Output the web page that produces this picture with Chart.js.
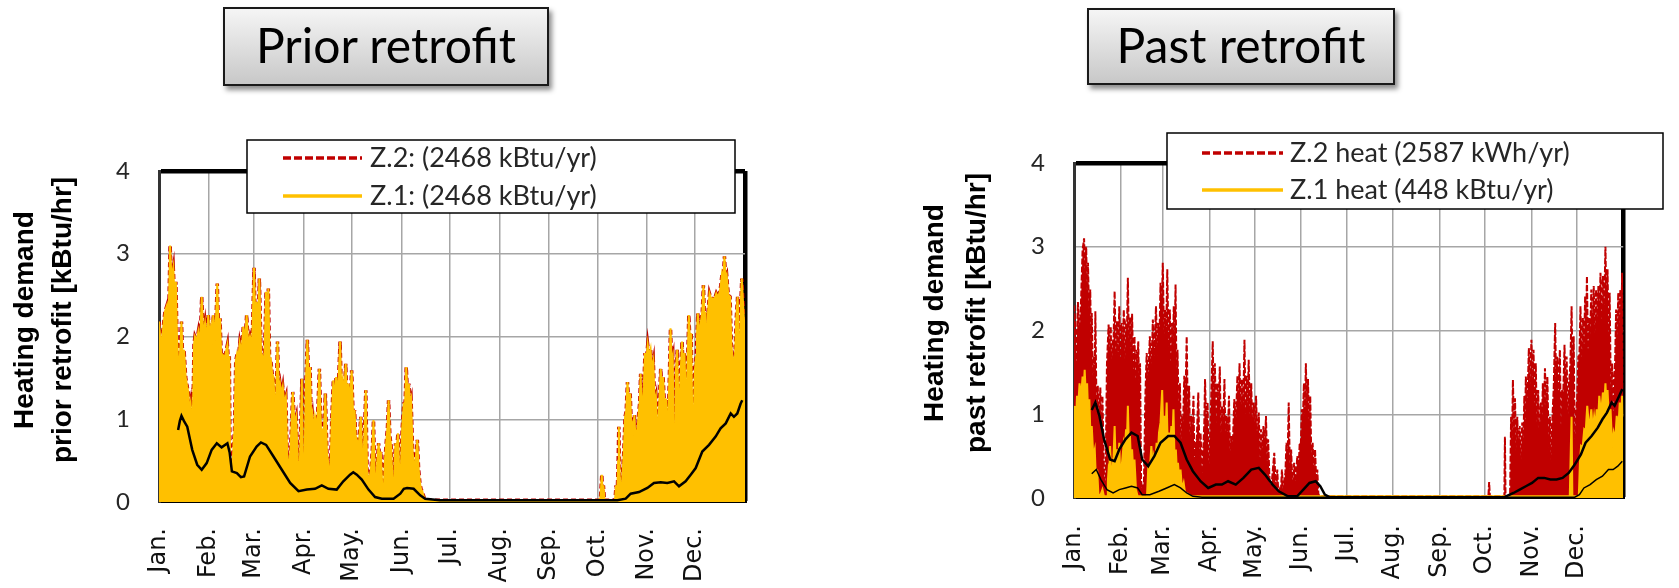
<!DOCTYPE html>
<html>
<head>
<meta charset="utf-8">
<script src="https://cdn.jsdelivr.net/npm/chart.js@4.4.1/dist/chart.umd.min.js"></script>
<style>
  html, body { margin: 0; padding: 0; background: #fff; }
  body { width: 1679px; height: 588px; position: relative; overflow: hidden; }
  canvas { position: absolute; top: 0; }
  #priorChart { left: 0; }
  #pastChart { left: 840px; }
  .title-box {
    position: absolute; box-sizing: border-box;
    border: 2px solid #1a1a1a;
    background: linear-gradient(#f5f5f5, #c8c8c8);
    box-shadow: 3px 4px 5px rgba(0, 0, 0, 0.45);
    font-family: Lato; font-size: 48px; color: #000; text-align: center;
  }
</style>
</head>
<body>
<canvas id="priorChart" width="830" height="588"></canvas>
<canvas id="pastChart" width="839" height="588"></canvas>
<div class="title-box" style="left:223px;top:7px;width:326px;height:79px;line-height:71px;">Prior retrofit</div>
<div class="title-box" style="left:1087px;top:8px;width:308px;height:77px;line-height:69px;">Past retrofit</div>
<script>
const monthLabels = ['Jan.', 'Feb.', 'Mar.', 'Apr.', 'May.', 'Jun.', 'Jul.', 'Aug.', 'Sep.', 'Oct.', 'Nov.', 'Dec.'];
const monthStarts = [0, 31, 59, 90, 120, 151, 181, 212, 243, 273, 304, 334];
const yTicks = [0, 1, 2, 3, 4];

// [day of year, kBtu/hr]
const priorZ1 = [
  [0,2.18],[1,1.92],[2,2.0],[3.7,2.30],[5,2.38],[6,2.2],[6.9,3.1],[7.8,2.7],[8.9,2.83],[9.8,2.4],[10.5,2.66],[11.2,2.0],
  [11.9,1.70],[13,1.75],[14,2.18],[14.8,1.7],[15.6,1.84],[16.6,1.51],[17.5,1.4],[18.2,1.33],[19,1.1],[19.7,1.19],[20.5,0.95],
  [21,0.91],[21.8,1.9],[22.4,2.0],[23.5,1.95],[24.5,2.06],[25.6,1.9],[26.6,2.48],[27.6,2.0],[28.7,2.16],[29.7,1.95],[30.7,2.26],
  [31.5,2.0],[32.4,2.12],[33.1,1.9],[33.8,2.26],[35,1.95],[36.3,2.64],[37.2,2.0],[38,2.22],[38.8,1.75],[39.6,1.78],[41,1.75],
  [42.6,1.90],[43.2,1.7],[43.8,1.76],[44.3,0.4],[44.6,0.35],[45.8,0.4],[46.5,0.75],[47,0.85],[47.8,1.7],[48.7,1.80],[49.5,1.75],
  [50.3,1.92],[51.4,1.8],[52.5,2.12],[53.6,1.95],[54.6,2.26],[55.6,1.9],[56.7,2.0],[58,1.9],[59.2,2.83],[60,2.1],[60.8,2.42],
  [61.6,2.0],[62.5,2.7],[63.6,1.8],[64.6,1.76],[65.6,1.7],[66.7,2.54],[67.4,1.9],[68.1,2.58],[68.9,1.7],[69.6,1.72],[70.5,1.55],
  [71.3,1.51],[72,1.2],[72.7,1.03],[73.3,1.5],[73.8,1.94],[74.6,1.35],[75.4,1.43],[76.3,1.3],[77.1,1.39],[78,1.2],[79,1.27],
  [79.8,0.6],[80.6,0.43],[81.4,0.5],[82.1,0.71],[82.7,1.0],[83.3,1.33],[84.4,0.95],[85.4,1.03],[86.5,0.5],[87.5,0.27],[88.3,0.9],
  [89,1.49],[89.7,0.3],[90.4,0.06],[91.4,1.4],[92.4,1.96],[93.3,1.4],[94.1,1.63],[94.8,1.0],[95.5,1.07],[96.4,0.85],[97.2,1.03],
  [98.5,0.9],[99.9,1.61],[101,0.8],[102,0.87],[102.8,0.9],[103.6,1.31],[104.6,0.6],[105.5,0.47],[106.6,0.2],[107.6,1.0],
  [108.6,1.47],[109.5,1.2],[110.3,1.51],[111.5,1.3],[112.8,1.94],[113.6,1.3],[114.5,1.47],[115.4,1.3],[116.3,1.67],[117.1,1.2],
  [118,1.43],[119,1.2],[120,1.59],[121,1.0],[121.8,1.11],[122.5,0.8],[123.2,0.75],[124.5,0.7],[125.7,1.03],[126.5,0.6],
  [127.4,0.51],[128.1,0.9],[128.8,1.35],[129.6,0.4],[130.5,0.23],[131.2,0.3],[132,0.39],[132.8,0.6],[133.6,0.99],[134.4,0.3],
  [135.1,0.15],[136,0.5],[136.8,0.71],[137.5,0.5],[138.2,0.61],[139,0.2],[139.9,0.06],[140.7,0.5],[141.5,0.71],[142.3,0.9],
  [143,1.23],[143.8,0.8],[144.6,0.67],[145.5,0.2],[146.3,0.06],[146.8,0.5],[147.3,0.71],[148,0.6],[148.8,0.83],[149.6,0.4],
  [150.4,0.23],[151.5,0.9],[152.5,1.19],[153.3,1.2],[154,1.63],[154.8,1.3],[155.6,1.43],[156.3,1.2],[157,1.25],[158,0.6],
  [158.8,0.43],[159.8,0.5],[160.9,0.75],[161.7,0.4],[162.5,0.23],[163.3,0.15],[164,0.13],[165,0.06],[166,0.03],[168,0.02],
  [274,0.02],[275,0.05],[275.8,0.33],[276.3,0.1],[276.8,0.2],[277.5,0.02],[284,0.02],[284.7,0.2],[285.3,0.02],[286,0.5],
  [286.4,0.91],[287,0.3],[287.8,0.02],[289.5,0.6],[290.3,1.03],[291,1.1],[291.8,1.45],[292.6,1.2],[293.5,1.31],[294.2,0.9],
  [295,0.95],[295.5,0.8],[296.1,1.05],[296.8,0.75],[297.5,0.83],[298.1,0.9],[298.8,1.07],[299.4,1.2],[300,1.55],[300.6,1.1],
  [301.3,1.19],[302,1.4],[302.7,1.80],[303.5,1.7],[304.4,1.90],[305.3,1.75],[306.2,1.84],[307,1.6],[307.9,1.70],[308.7,1.2],
  [309.5,1.27],[310.3,0.85],[311,0.91],[311.8,1.3],[312.5,1.61],[313.2,1.4],[314,1.51],[315,1.1],[315.8,1.25],[316.6,0.9],
  [317.3,1.03],[318,1.6],[318.6,2.1],[319.3,1.7],[320,1.76],[320.6,0.5],[321.3,0.35],[322,1.6],[322.8,1.84],[323.5,1.2],
  [324.3,1.23],[325,1.6],[325.8,1.94],[326.5,1.6],[327.3,1.80],[328,1.3],[328.8,1.31],[329.4,1.8],[330,2.26],[330.8,1.9],
  [331.5,2.04],[332.2,0.9],[333,0.91],[333.8,1.6],[334.6,1.76],[335.1,2.0],[335.6,2.28],[336.6,2.0],[337.7,2.20],[338.4,2.3],
  [339.1,2.62],[339.8,2.2],[340.4,2.30],[340.8,1.8],[341.2,1.82],[342,2.3],[342.9,2.52],[344,2.45],[345,2.46],[346,2.45],
  [347.1,2.52],[348,2.48],[349,2.52],[349.8,2.6],[350.7,2.76],[351.5,2.7],[352.2,2.97],[352.9,2.7],[353.6,2.74],[354.6,2.5],
  [355.7,2.48],[356.5,1.9],[357.2,1.76],[358,1.7],[358.7,1.70],[359.5,2.2],[360.4,2.48],[361.2,2.0],[361.6,0.1],[362,0.1],
  [362.4,2.4],[363,2.70],[363.8,2.4],[364.6,2.12],[365,2.1]
];
const priorZ2 = priorZ1;
const priorAvg = [
  [11.9,0.87],[13,0.98],[14,1.04],[15.5,0.98],[17.6,0.91],[20.7,0.63],[23.8,0.45],[26.6,0.39],[29.7,0.47],[32.8,0.63],[36,0.71],
  [39,0.66],[42.6,0.71],[44,0.6],[45.4,0.37],[48.5,0.35],[51,0.3],[53,0.31],[56.7,0.55],[60.8,0.67],[63.5,0.72],[66.7,0.69],
  [71.3,0.55],[76.5,0.39],[81.7,0.23],[86.9,0.13],[92.1,0.15],[97.2,0.16],[101.4,0.2],[105.5,0.16],[110.7,0.15],[114.8,0.25],
  [119,0.33],[121,0.36],[123.2,0.33],[126.3,0.27],[130.5,0.15],[134.6,0.06],[138.8,0.04],[146.1,0.04],[150.3,0.1],[152.5,0.16],
  [154.5,0.17],[158.6,0.16],[162.7,0.08],[165.8,0.04],[175,0.02],
  [285.5,0.02],[290.7,0.04],[293.8,0.1],[299,0.12],[304.2,0.17],[308.3,0.23],[312.5,0.24],[316.6,0.23],[320.8,0.25],[323.9,0.19],
  [328,0.25],[331.2,0.33],[334.3,0.41],[338.4,0.61],[342.6,0.69],[346.7,0.79],[349.8,0.89],[353,0.95],[356.1,1.07],[358.1,1.03],
  [360.2,1.07],[362.3,1.19],[363.3,1.23]
];

const pastZ2 = [
  [0,2.3],[0.5,2.16],[1.5,1.6],[2.6,2.34],[3.6,1.9],[4.7,2.37],[5.7,2.96],[6.7,3.10],[7.4,2.6],[8.1,3.0],[8.7,2.4],[9.3,2.81],
  [10,2.2],[10.8,2.49],[11.3,1.8],[11.8,2.21],[12.6,1.4],[13.4,1.70],[13.8,1.5],[14.2,2.23],[15,1.0],[15.8,1.34],[16.6,0.9],
  [17.5,1.32],[18.2,0.8],[18.9,1.22],[19.9,0.3],[20.9,0.1],[21.9,1.6],[23,2.07],[23.7,1.6],[24.4,2.05],[25,1.5],[25.6,1.85],
  [26.3,1.9],[27,2.47],[27.8,1.7],[28.5,2.11],[29.3,1.7],[30.1,2.29],[30.8,1.6],[31.5,2.09],[32.3,1.7],[33.1,2.25],[33.9,1.6],
  [34.6,2.05],[35.2,2.0],[35.8,2.63],[36.5,1.8],[37.2,2.16],[37.9,1.7],[38.6,2.2],[39.4,1.5],[40.2,1.93],[40.8,1.4],[41.3,1.77],
  [42,1.4],[42.7,1.87],[43.3,1.3],[43.9,1.61],[44.6,0.2],[45.3,0.1],[46.5,0.2],[47.4,1.2],[48.3,1.73],[49.3,1.4],[50.4,1.93],
  [51.4,1.5],[52.4,2.13],[53.4,1.7],[54.5,2.29],[55.3,1.7],[56.1,2.09],[56.8,1.9],[57.5,2.57],[58.2,2.1],[59,2.81],[59.8,1.9],
  [60.6,2.25],[61.3,2.0],[62,2.73],[62.8,1.8],[63.7,2.25],[64.4,1.6],[65.1,2.09],[65.7,1.7],[66.3,2.29],[66.9,1.9],[67.5,2.55],
  [68.2,1.3],[68.8,1.77],[69.6,1.0],[70.4,1.37],[71.1,0.6],[71.8,0.94],[72.5,0.9],[73.3,1.46],[74.1,1.2],[74.9,1.93],[75.7,0.9],
  [76.5,1.34],[77.3,0.5],[78,0.98],[78.7,0.8],[79.4,1.22],[80,0.4],[80.6,0.66],[81.6,0.7],[82.6,1.26],[83.4,0.5],[84.1,0.78],
  [85.1,0.3],[86.1,0.66],[86.6,0.9],[87.1,1.42],[88,0.7],[88.8,1.14],[89.5,0.3],[90.2,0.58],[91.2,1.2],[92.2,1.87],[92.9,1.1],
  [93.6,1.61],[94.5,0.9],[95.3,1.37],[96.1,1.0],[96.9,1.57],[97.6,0.7],[98.3,1.10],[99.2,0.9],[100,1.42],[100.7,0.6],[101.4,0.98],
  [102.2,0.7],[103,1.22],[103.8,0.4],[104.5,0.74],[105.5,0.6],[106.5,1.18],[107.6,0.9],[108.6,1.46],[109.3,1.0],[110,1.61],
  [110.8,1.0],[111.6,1.42],[112.5,1.1],[113.3,1.89],[114,1.0],[114.7,1.46],[115.4,1.1],[116.1,1.65],[117,0.9],[117.8,1.37],
  [118.6,0.7],[119.4,1.14],[120.2,0.8],[121,1.22],[121.9,0.6],[122.8,1.02],[123.6,0.4],[124.3,0.82],[125.1,0.5],[125.9,0.86],
  [126.8,0.6],[127.6,0.98],[128.3,0.4],[129,0.70],[130,0.2],[131,0.1],[132,0.3],[133.1,0.54],[134.1,0.1],[135.1,0.34],
  [135.8,0.05],[136.5,0.1],[137.4,0.05],[138.2,0.34],[139,0.05],[139.8,0.22],[140.5,0.3],[141.2,0.66],[142,0.5],[142.7,1.14],
  [143.5,0.3],[144.3,0.58],[145.3,0.1],[146.3,0.42],[147.4,0.2],[148.4,0.50],[149.2,0.3],[150,0.66],[150.7,0.6],[151.4,1.06],
  [152.1,0.9],[152.8,1.37],[153.5,1.0],[154.1,1.61],[154.8,1.0],[155.5,1.42],[156.3,0.8],[157,1.22],[157.8,0.4],[158.6,0.66],
  [159.4,0.3],[160.2,0.58],[161,0.2],[161.7,0.34],[162.4,0.05],[163.1,0.02],[274,0.02],
  [275.4,0.02],[275.9,0.19],[276.4,0.02],[286,0.02],[286.4,0.73],[286.8,0.02],[289.8,0.02],[290.5,0.97],[291.1,0.6],[291.7,1.41],
  [292.4,0.8],[293.1,1.19],[293.8,0.5],[294.6,0.97],[295.4,0.5],[296.2,0.86],[297,0.4],[297.9,0.90],[298.6,0.6],[299.3,1.22],
  [299.8,0.9],[300.3,1.45],[301.3,1.1],[302.3,1.79],[303.1,1.3],[304,1.89],[304.7,1.4],[305.4,1.77],[306.1,1.1],[306.9,1.61],
  [307.7,0.8],[308.5,1.29],[309.3,0.6],[310.2,1.14],[310.9,0.8],[311.6,1.37],[312.3,1.0],[313,1.55],[313.8,1.0],[314.6,1.45],
  [315.5,0.6],[316.3,0.97],[317,0.4],[317.7,0.86],[318.8,1.3],[319.8,2.09],[320.5,1.2],[321.2,1.69],[322,1.2],[322.9,1.77],
  [323.6,0.8],[324.3,1.29],[325.1,1.2],[326,1.83],[326.7,1.2],[327.4,1.69],[328.2,0.9],[329,1.37],[329.9,1.6],[330.7,2.29],
  [331.4,1.4],[332.1,1.93],[332.8,0.6],[333.5,0.97],[334.4,1.2],[335.2,1.69],[335.9,1.7],[336.6,2.29],[337.4,1.6],[338.2,2.15],
  [339,1.8],[339.7,2.41],[340.3,2.0],[340.9,2.65],[341.6,1.7],[342.3,2.15],[343,1.9],[343.8,2.49],[344.6,1.9],[345.4,2.53],
  [346.2,1.9],[347,2.49],[347.8,2.0],[348.5,2.53],[349.2,2.1],[349.9,2.69],[350.7,2.1],[351.5,2.65],[352.4,2.3],[353.2,3.0],
  [353.9,2.2],[354.6,2.73],[355.3,1.9],[356,2.45],[356.8,1.2],[357.7,1.61],[358.3,1.0],[358.9,1.37],[359.6,1.6],[360.3,2.25],
  [361,1.8],[361.7,2.45],[362.4,1.9],[363.1,2.49],[363.7,2.0],[364.3,2.69],[365,1.3]
];
const pastZ1 = [
  [0,1.1],[0.6,0.97],[1.3,0.9],[2,1.22],[2.8,1.1],[3.7,1.37],[4.7,1.2],[5.7,1.45],[6.4,1.3],[7.1,1.53],[7.9,1.2],[8.7,1.37],
  [9.4,1.0],[10.2,1.18],[11,0.7],[11.8,0.86],[12.8,0.5],[13.8,0.58],[14.6,0.2],[15.4,0.34],[16.2,0.05],[16.9,0.02],[17.9,0.05],
  [18.9,0.1],[19.9,0.02],[22,0.02],[22.5,0.2],[23,0.34],[23.5,0.3],[24,0.62],[24.8,0.2],[25.6,0.34],[26.3,0.5],[27,0.86],
  [27.7,0.4],[28.5,0.58],[29.3,0.4],[30.1,0.66],[30.8,0.2],[31.5,0.34],[32.3,0.5],[33.1,0.66],[33.8,0.6],[34.6,0.82],[35.2,0.7],
  [35.8,1.10],[36.5,0.6],[37.2,0.74],[37.9,0.4],[38.6,0.58],[39.4,0.3],[40.2,0.46],[41.2,0.1],[42.3,0.02],[48.5,0.02],[49.3,0.34],
  [50.3,0.3],[51.4,0.62],[52.2,0.4],[53,0.5],[53.9,0.4],[54.9,0.66],[55.7,0.5],[56.5,0.78],[57.5,0.9],[58.6,1.29],[59.4,0.7],
  [60.2,0.98],[60.9,0.8],[61.6,1.14],[62.3,0.6],[63,0.78],[63.8,0.6],[64.7,0.86],[65.4,0.7],[66.1,1.06],[66.9,0.4],[67.7,0.58],
  [68.4,0.3],[69.1,0.42],[70,0.2],[70.8,0.34],[71.8,0.1],[72.9,0.18],[73.9,0.05],[74.9,0.06],[78,0.02],
  [329.5,0.02],[330.2,0.6],[330.7,0.97],[331.2,0.02],[335.5,0.02],[336.2,0.4],[337,0.62],[338,0.6],[339.1,0.82],[340.1,0.8],
  [341.1,1.10],[342.5,0.8],[343.8,1.06],[344.8,0.8],[345.7,0.97],[346.5,0.85],[347.4,1.06],[348.3,0.9],[349.1,1.22],[350.3,1.0],
  [351.5,1.26],[352.4,1.1],[353.2,1.37],[353.9,1.1],[354.6,1.29],[355.6,0.9],[356.6,1.06],[357.7,0.6],[358.7,0.78],[359.7,0.7],
  [360.7,0.98],[361.7,0.8],[362.7,1.14],[363.5,0.9],[364.3,1.22],[365,0.97]
];
const pastZ2Avg = [
  [11.8,1.05],[14.2,1.14],[16.9,0.98],[20,0.70],[24,0.46],[27,0.44],[30.1,0.58],[34.2,0.70],[38.2,0.78],[42.3,0.74],[45.3,0.46],
  [49.3,0.38],[53.4,0.5],[57.5,0.66],[62.6,0.74],[66.7,0.74],[70.8,0.66],[74.9,0.46],[79,0.32],[84.1,0.2],[89.2,0.12],[94.3,0.16],
  [98.3,0.16],[102.4,0.2],[107.5,0.16],[112.6,0.24],[117.8,0.34],[122.8,0.36],[126.9,0.28],[132,0.16],[136.1,0.08],[142.2,0.02],
  [148.3,0.02],[152.4,0.1],[156.5,0.18],[160.6,0.2],[163.7,0.14],[166.7,0.04],[169.8,0.01],
  [286,0.01],[292.1,0.06],[296.2,0.1],[300.3,0.14],[304.4,0.18],[308.5,0.24],[312.5,0.24],[316.6,0.22],[320.7,0.22],[324.7,0.24],
  [328.8,0.3],[332.8,0.40],[336.9,0.52],[340,0.66],[344,0.74],[348.1,0.84],[351.2,0.94],[354.2,1.02],[357.3,1.14],[359.3,1.10],
  [362.4,1.22],[364.4,1.30]
];
const pastZ1Avg = [
  [11.8,0.29],[14.8,0.34],[17.9,0.22],[21.9,0.1],[26,0.06],[30.1,0.1],[34.2,0.12],[38.2,0.14],[42.3,0.12],[45.3,0.04],[50.4,0.04],
  [56.5,0.08],[61.6,0.12],[66.7,0.16],[70.8,0.12],[74.9,0.06],[79,0.02],[85.1,0.01],
  [332.8,0.01],[335.9,0.04],[338.9,0.12],[343,0.16],[347.1,0.22],[351.2,0.26],[355.2,0.34],[358.3,0.34],[361.4,0.38],[364.4,0.44]
];

const RED = '#C00000';
const YELLOW = '#FFC000';

const boxLegend = {
  id: 'boxLegend',
  afterDraw(chart, args, opts) {
    const {ctx} = chart;
    const [x, y, w, h] = opts.box;
    ctx.save();
    ctx.fillStyle = '#fff';
    ctx.fillRect(x, y, w, h);
    ctx.strokeStyle = '#000';
    ctx.lineWidth = 1.5;
    ctx.strokeRect(x, y, w, h);
    opts.items.forEach(item => {
      const ds = chart.data.datasets[item.dataset];
      ctx.beginPath();
      ctx.setLineDash(item.dash || []);
      ctx.strokeStyle = ds.borderColor;
      ctx.lineWidth = 3.5;
      ctx.moveTo(opts.lineX[0], item.y);
      ctx.lineTo(opts.lineX[1], item.y);
      ctx.stroke();
      ctx.setLineDash([]);
      ctx.fillStyle = '#262626';
      ctx.font = '27px Lato';
      ctx.textBaseline = 'middle';
      ctx.fillText(ds.label, opts.textX, item.y);
    });
    ctx.restore();
  }
};

const axisTitle = {
  id: 'axisTitle',
  afterDraw(chart, args, opts) {
    const {ctx} = chart;
    ctx.save();
    ctx.translate(opts.x, opts.y);
    ctx.rotate(-Math.PI / 2);
    ctx.font = 'bold 28px "Liberation Sans"';
    ctx.fillStyle = '#000';
    ctx.textAlign = 'center';
    ctx.textBaseline = 'middle';
    opts.lines.forEach((t, i) => ctx.fillText(t, 0, i * opts.gap));
    ctx.restore();
  }
};

function makeOptions(cfg) {
  return {
    responsive: false,
    animation: false,
    layout: {padding: {left: 0, top: cfg.top, right: cfg.right, bottom: 0}},
    elements: {point: {radius: 0}, line: {tension: 0}},
    plugins: {
      legend: {display: false},
      tooltip: {enabled: false},
      boxLegend: cfg.legend,
      axisTitle: cfg.title,
    },
    scales: {
      x: {
        type: 'linear', min: 0, max: 365,
        afterBuildTicks: s => { s.ticks = monthStarts.concat([365]).map(v => ({value: v})); },
        afterFit: s => { s.height = cfg.xHeight; },
        ticks: {
          autoSkip: false, minRotation: 90, maxRotation: 90, padding: cfg.xPad,
          color: '#111', font: {family: 'DejaVu Sans', size: 24},
          callback: (v, i) => monthLabels[i] || '',
        },
        grid: {
          drawTicks: false,
          color: c => c.tick.value === 365 ? '#000' : (c.tick.value === 0 ? '#333' : '#a6a6a6'),
          lineWidth: c => c.tick.value === 365 ? 4.5 : (c.tick.value === 0 ? 3 : 1.5),
        },
        border: {color: '#000', width: 2},
      },
      y: {
        min: 0, max: 4,
        afterBuildTicks: s => { s.ticks = yTicks.map(v => ({value: v})); },
        afterFit: s => { s.width = cfg.yWidth; },
        ticks: {padding: 29, color: '#262626', font: {family: 'Lato', size: 24}, callback: v => v},
        grid: {
          drawTicks: false,
          color: c => (c.tick.value === 4 || c.tick.value === 0) ? '#000' : '#a6a6a6',
          lineWidth: c => c.tick.value === 4 ? 4.5 : (c.tick.value === 0 ? 2 : 1.5),
        },
        border: {color: '#333', width: 3},
      },
    },
  };
}

new Chart(document.getElementById('priorChart'), {
  type: 'line',
  data: {
    datasets: [
      {label: 'Z.1: (2468 kBtu/yr)', data: priorZ1, borderColor: YELLOW, backgroundColor: YELLOW,
       borderWidth: 2, fill: 'origin', order: 1},
      {label: 'Z.2: (2468 kBtu/yr)', data: priorZ2, borderColor: RED, borderDash: [5, 3],
       borderWidth: 3.5, fill: false, order: 2},
      {label: 'Z.1 average', data: priorAvg, borderColor: '#000', borderWidth: 2.5, fill: false, order: 0},
    ],
  },
  options: makeOptions({
    top: 171, right: 85, xHeight: 86, yWidth: 159, xPad: 26,
    legend: {box: [247, 140, 488, 73], lineX: [283, 362], textX: 370,
             items: [{dataset: 1, y: 158, dash: [8, 3]}, {dataset: 0, y: 196}]},
    title: {x: 25, y: 320, gap: 38, lines: ['Heating demand', 'prior retrofit [kBtu/hr]']},
  }),
  plugins: [boxLegend, axisTitle],
});

new Chart(document.getElementById('pastChart'), {
  type: 'line',
  data: {
    datasets: [
      {label: 'Z.1 heat (448 kBtu/yr)', data: pastZ1, borderColor: YELLOW, backgroundColor: YELLOW,
       borderWidth: 2, fill: 'origin', order: 2},
      {label: 'Z.2 heat (2587 kWh/yr)', data: pastZ2, borderColor: RED, backgroundColor: RED, borderDash: [6, 2],
       borderWidth: 2, fill: 'origin', order: 3},
      {label: 'Z.2 average', data: pastZ2Avg, borderColor: '#000', borderWidth: 2.5, fill: false, order: 0},
      {label: 'Z.1 average', data: pastZ1Avg, borderColor: '#000', borderWidth: 1.5, fill: false, order: 1},
    ],
  },
  options: makeOptions({
    top: 163, right: 6, xHeight: 90, yWidth: 234, xPad: 27,
    legend: {box: [327, 133, 496, 76], lineX: [362, 443], textX: 450,
             items: [{dataset: 1, y: 153, dash: [8, 3]}, {dataset: 0, y: 190}]},
    title: {x: 95, y: 313, gap: 42, lines: ['Heating demand', 'past retrofit [kBtu/hr]']},
  }),
  plugins: [boxLegend, axisTitle],
});
</script>
</body>
</html>
